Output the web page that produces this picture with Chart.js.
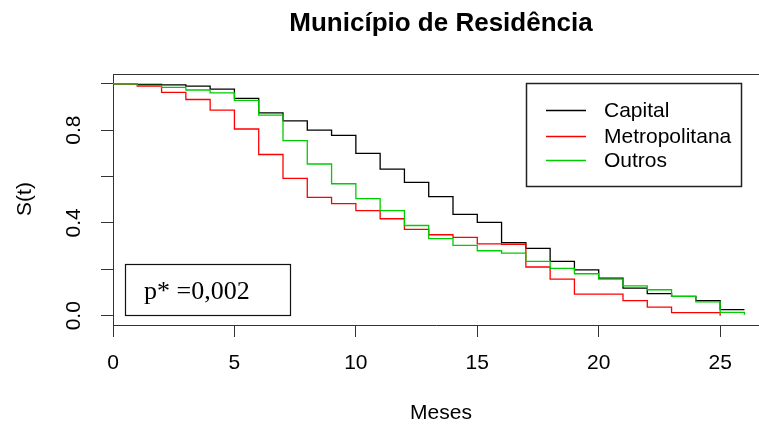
<!DOCTYPE html>
<html>
<head>
<meta charset="utf-8">
<script src="https://cdn.jsdelivr.net/npm/chart.js@4/dist/chart.umd.min.js"></script>
<style>
  body { margin: 0; background: #fff; }
  #wrap { width: 759px; height: 428px; }
</style>
</head>
<body>
<div id="wrap"><canvas id="canvas" width="759" height="428"></canvas></div>
<script>
// Kaplan-Meier estimates, value holds from each month until the next one
var monthsCapital = [0, 1, 2, 3, 4, 5, 6, 7, 8, 9, 10, 11, 12, 13, 14, 15, 16, 17, 18, 19, 20, 21, 22, 23, 24, 25, 26];
var capital = [1.0, 0.997, 0.995, 0.99, 0.977, 0.937, 0.874, 0.84, 0.80, 0.777, 0.70, 0.632, 0.575, 0.513, 0.437, 0.402, 0.315, 0.29, 0.234, 0.198, 0.162, 0.119, 0.095, 0.083, 0.065, 0.026, 0.026];

var monthsMetro = [0, 1, 2, 3, 4, 5, 6, 7, 8, 9, 10, 11, 12, 13, 14, 15, 16, 17, 18, 19, 20, 21, 22, 23, 24, 25];
var metropolitana = [1.0, 0.99, 0.963, 0.932, 0.886, 0.805, 0.695, 0.592, 0.51, 0.483, 0.453, 0.418, 0.372, 0.349, 0.338, 0.31, 0.308, 0.21, 0.158, 0.093, 0.093, 0.065, 0.037, 0.013, 0.013, 0.0];

var monthsOutros = [0, 1, 2, 3, 4, 5, 6, 7, 8, 9, 10, 11, 12, 13, 14, 15, 16, 17, 18, 19, 20, 21, 22, 23, 24, 25, 26];
var outros = [1.0, 0.993, 0.984, 0.973, 0.961, 0.928, 0.865, 0.755, 0.654, 0.569, 0.505, 0.453, 0.389, 0.332, 0.303, 0.28, 0.27, 0.234, 0.204, 0.181, 0.158, 0.129, 0.112, 0.083, 0.06, 0.014, 0.004];

var xTicks = [0, 5, 10, 15, 20, 25];
var yTicks = [0, 0.2, 0.4, 0.6, 0.8, 1.0];
var yTickLabels = { '0': '0.0', '0.4': '0.4', '0.8': '0.8' };

// each value is held until the next month, so shift: y of point i is the value before x_i
function toPoints(xs, ys) {
    return xs.map(function(x, i) { return { x: x, y: ys[i] }; });
}

var AXIS = '#333';
var SANS = '"Liberation Sans", Arial, sans-serif';

var extras = {
    id: 'extras',
    afterDraw: function(chart) {
        var ctx = chart.ctx;
        var area = chart.chartArea;
        var yScale = chart.scales.y;
        ctx.save();

        // box top line
        ctx.strokeStyle = AXIS;
        ctx.lineWidth = 1;
        ctx.beginPath();
        ctx.moveTo(area.left, area.top + 0.5);
        ctx.lineTo(area.right, area.top + 0.5);
        ctx.stroke();

        ctx.fillStyle = '#000';

        // title
        ctx.font = 'bold 26px ' + SANS;
        ctx.textAlign = 'center';
        ctx.textBaseline = 'alphabetic';
        ctx.fillText('Município de Residência', 441, 31);

        // x title
        ctx.font = '21px ' + SANS;
        ctx.textBaseline = 'middle';
        ctx.fillText('Meses', 441, 413);

        // y title and rotated y tick labels
        ctx.save();
        ctx.translate(25, 199);
        ctx.rotate(-Math.PI / 2);
        ctx.fillText('S(t)', 0, 0);
        ctx.restore();

        yTicks.forEach(function(v) {
            var lab = yTickLabels[String(v)];
            if (!lab) return;
            ctx.save();
            ctx.translate(74, yScale.getPixelForValue(v));
            ctx.rotate(-Math.PI / 2);
            ctx.fillText(lab, 0, 0);
            ctx.restore();
        });

        // legend
        ctx.lineWidth = 1.5;
        ctx.strokeStyle = '#222';
        ctx.strokeRect(526.5, 83.5, 215, 103);
        var rowY = [110, 136, 160];
        ctx.textAlign = 'left';
        chart.data.datasets.forEach(function(ds, i) {
            ctx.strokeStyle = ds.borderColor;
            ctx.lineWidth = 1.3;
            ctx.beginPath();
            ctx.moveTo(546, rowY[i] + 0.5);
            ctx.lineTo(586, rowY[i] + 0.5);
            ctx.stroke();
            ctx.fillStyle = '#000';
            ctx.fillText(ds.label, 604, rowY[i] + 1);
        });

        // p-value box
        ctx.lineWidth = 1.2;
        ctx.strokeStyle = '#111';
        ctx.strokeRect(125.5, 264.5, 165, 51);
        ctx.font = '26px "Liberation Serif", "Times New Roman", serif';
        ctx.textBaseline = 'alphabetic';
        ctx.fillText('p* =0,002', 144, 299);

        ctx.restore();
    }
};

window.onload = function() {
    var ctx = document.getElementById('canvas').getContext('2d');
    window.myChart = new Chart(ctx, {
        type: 'line',
        data: {
            datasets: [{
                label: 'Capital',
                data: toPoints(monthsCapital, capital),
                borderColor: '#000000',
                order: 3
            }, {
                label: 'Metropolitana',
                data: toPoints(monthsMetro, metropolitana),
                borderColor: '#FF0000',
                order: 2
            }, {
                label: 'Outros',
                data: toPoints(monthsOutros, outros),
                borderColor: '#00CD00',
                order: 1
            }]
        },
        options: {
            responsive: false,
            animation: false,
            layout: { padding: { top: 74, left: 0, right: 0, bottom: 0 } },
            elements: {
                line: { stepped: 'before', borderWidth: 1.3, fill: false, tension: 0 },
                point: { radius: 0, hoverRadius: 0 }
            },
            plugins: {
                legend: { display: false },
                title: { display: false },
                tooltip: { enabled: false }
            },
            scales: {
                x: {
                    type: 'linear',
                    min: 0,
                    max: 26.6,
                    afterBuildTicks: function(scale) {
                        scale.ticks = xTicks.map(function(v) { return { value: v }; });
                    },
                    afterFit: function(scale) { scale.height = 103; },
                    grid: { drawOnChartArea: false, tickLength: 12, tickColor: AXIS, tickWidth: 1 },
                    border: { display: true, color: AXIS, width: 1 },
                    ticks: {
                        autoSkip: false,
                        maxRotation: 0,
                        padding: 14,
                        color: '#000',
                        font: { family: SANS, size: 21 }
                    }
                },
                y: {
                    type: 'linear',
                    min: -0.04,
                    max: 1.042,
                    afterBuildTicks: function(scale) {
                        scale.ticks = yTicks.map(function(v) { return { value: v }; });
                    },
                    afterFit: function(scale) { scale.width = 113; },
                    grid: { drawOnChartArea: false, tickLength: 12, tickColor: AXIS, tickWidth: 1 },
                    border: { display: true, color: AXIS, width: 1 },
                    ticks: { display: false }
                }
            }
        },
        plugins: [extras]
    });
};
</script>
</body>
</html>
